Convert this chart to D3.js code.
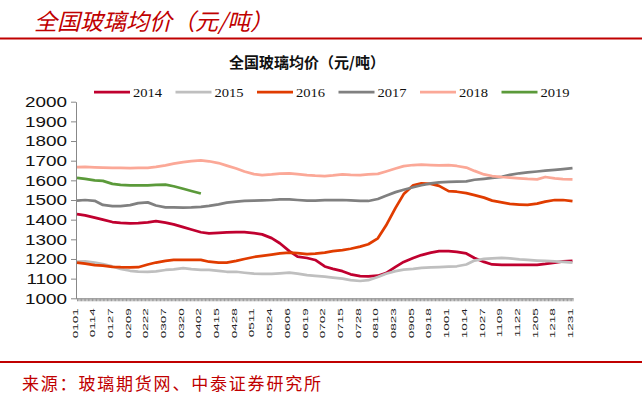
<!DOCTYPE html>
<html>
<head>
<meta charset="utf-8">
<script src="https://cdn.jsdelivr.net/npm/d3@7"></script>
<style>
  body { margin: 0; background: #fff; }
  svg { display: block; }
</style>
</head>
<body>
<div id="vis"></div>
<script>
// sample dates (MMDD) the values were read at
const sampleDates = [
  '0101', '0107', '0114', '0120', '0127', '0202', '0209', '0215', '0222', '0228',
  '0307', '0313', '0320', '0326', '0402', '0408', '0415', '0421', '0428', '0504',
  '0511', '0517', '0524', '0530', '0606', '0612', '0619', '0625', '0702', '0708',
  '0715', '0721', '0728', '0803', '0810', '0816', '0823', '0829', '0905', '0911',
  '0918', '0924', '1001', '1007', '1014', '1020', '1027', '1102', '1109', '1115',
  '1122', '1128', '1205', '1211', '1218', '1224', '1231'
];
const tickLabels = [
  '0101', '0114', '0127', '0209', '0222', '0307', '0320', '0402', '0415', '0428',
  '0511', '0524', '0606', '0619', '0702', '0715', '0728', '0810', '0823', '0905',
  '0918', '1001', '1014', '1027', '1109', '1122', '1205', '1218', '1231'
];
const yTicks = [1000, 1100, 1200, 1300, 1400, 1500, 1600, 1700, 1800, 1900, 2000];

const years = ['2014', '2015', '2016', '2017', '2018', '2019'];
const colors = ['#c0002f', '#bfbfbf', '#e03c00', '#808080', '#fba897', '#5b9a3a'];

const s2014 = [
  1428, 1422, 1410, 1400, 1388, 1384, 1381, 1382, 1386, 1392,
  1385, 1376, 1362, 1350, 1336, 1330, 1333, 1335, 1336, 1336,
  1332, 1325, 1306, 1280, 1240, 1212, 1205, 1195, 1162, 1150,
  1138, 1122, 1113, 1112, 1115, 1128, 1160, 1185, 1205, 1220,
  1232, 1240, 1240, 1236, 1228, 1205, 1185, 1172, 1170, 1170,
  1170, 1170, 1170, 1175, 1182, 1188, 1190
];
const s2015 = [
  1187, 1188, 1182, 1174, 1162, 1150, 1140, 1136, 1135, 1137,
  1144, 1147, 1153, 1148, 1145, 1144, 1140, 1135, 1135, 1130,
  1125, 1124, 1124, 1127, 1130, 1126, 1118, 1114, 1110, 1105,
  1100, 1092, 1088, 1092, 1108, 1125, 1138, 1146, 1150, 1155,
  1157, 1159, 1161, 1163, 1172, 1192, 1200, 1203, 1205, 1203,
  1198, 1195, 1192, 1190, 1188, 1185, 1182
];
const s2016 = [
  1182, 1176, 1169, 1166, 1160, 1158, 1157, 1158, 1172, 1182,
  1190, 1195, 1195, 1195, 1195, 1186, 1182, 1182, 1190, 1200,
  1210, 1216, 1222, 1228, 1232, 1230, 1225, 1227, 1232, 1240,
  1245, 1252, 1263, 1275, 1305, 1370, 1460, 1530, 1575, 1585,
  1582, 1572, 1545, 1542, 1535, 1525, 1512, 1497, 1488, 1480,
  1477, 1475, 1482, 1492, 1500, 1500, 1494
];
const s2017 = [
  1497, 1500, 1496, 1475, 1469, 1469, 1474, 1484, 1488, 1472,
  1463, 1462, 1461, 1462, 1465, 1470, 1478, 1487, 1492, 1495,
  1497, 1498, 1500, 1503, 1503, 1500, 1497, 1497, 1499, 1500,
  1500, 1498, 1495, 1495, 1505, 1522, 1540, 1552, 1565, 1575,
  1585, 1590, 1592, 1593, 1595, 1603, 1608, 1612, 1618, 1628,
  1636, 1640, 1645, 1649, 1653, 1657, 1662
];
const s2018 = [
  1667, 1668, 1666, 1665, 1664, 1663, 1662, 1663, 1664, 1668,
  1676, 1685, 1693, 1698, 1702, 1697, 1688, 1675, 1660, 1645,
  1632, 1627, 1630, 1634, 1636, 1632, 1627, 1624, 1622, 1625,
  1630, 1628, 1627, 1630, 1633, 1645, 1660, 1672, 1678, 1680,
  1678, 1676, 1677, 1673, 1665, 1648, 1630, 1622, 1617, 1614,
  1610, 1607, 1605, 1617, 1610, 1606, 1605
];
const s2019 = [
  1612, 1607, 1600, 1597, 1582, 1577, 1575, 1574, 1575, 1577,
  1578, 1570, 1557, 1546, 1533
];
const series = [s2014, s2015, s2016, s2017, s2018, s2019];

const width = 642;
const height = 395;
const red = '#c00000';

const svg = d3.select('#vis')
  .append('svg')
  .attr('width', width)
  .attr('height', height);

// header + footer
svg.append('text')
  .attr('x', 34)
  .attr('y', 30)
  .attr('fill', red)
  .attr('font-family', '"Noto Sans CJK SC", sans-serif')
  .attr('font-size', 23)
  .attr('font-style', 'italic')
  .text('全国玻璃均价（元/吨）');

svg.append('line')
  .attr('x1', 0).attr('x2', width)
  .attr('y1', 38.5).attr('y2', 38.5)
  .attr('stroke', red)
  .attr('stroke-width', 2);

svg.append('line')
  .attr('x1', 0).attr('x2', width)
  .attr('y1', 362).attr('y2', 362)
  .attr('stroke', red)
  .attr('stroke-width', 2);

svg.append('text')
  .attr('x', 22)
  .attr('y', 390)
  .attr('fill', red)
  .attr('font-family', '"Noto Sans CJK SC", sans-serif')
  .attr('font-size', 17)
  .attr('letter-spacing', 1.8)
  .text('来源：玻璃期货网、中泰证券研究所');

svg.append('text')
  .attr('x', 307)
  .attr('y', 68)
  .attr('text-anchor', 'middle')
  .attr('fill', '#111')
  .attr('font-family', '"Noto Sans CJK SC", sans-serif')
  .attr('font-size', 15)
  .attr('font-weight', 'bold')
  .text('全国玻璃均价（元/吨）');

// scales
const days = d3.timeDay.range(new Date(2015, 0, 1), new Date(2016, 0, 1))
  .map(d3.timeFormat('%m%d'));

const x = d3.scalePoint()
  .domain(days)
  .range([77, 572.5]);
const y = d3.scaleLinear()
  .domain([1000, 2000])
  .range([298.3, 101.7]);

// axes
const xAxis = svg.append('g')
  .attr('transform', 'translate(0,298.3)')
  .call(d3.axisBottom(x)
    .tickValues(days)
    .tickSize(3)
    .tickSizeOuter(0)
    .tickFormat(d => tickLabels.includes(d) ? d : ''));
xAxis.select('.domain').attr('stroke', '#888').attr('d', 'M76,0.5H573.5');
xAxis.selectAll('.tick line').attr('stroke', '#999');
xAxis.selectAll('.tick text')
  .attr('font-family', '"Liberation Sans", Arial, sans-serif')
  .attr('font-size', 8)
  .attr('fill', '#222')
  .attr('text-anchor', 'end')
  .attr('transform', 'rotate(-90) scale(1.69,1)')
  .attr('x', -10 / 1.69)
  .attr('y', 0)
  .attr('dy', 0);

const yAxis = svg.append('g')
  .attr('transform', 'translate(76,0)')
  .call(d3.axisLeft(y)
    .tickValues(yTicks)
    .tickFormat(d3.format('d'))
    .tickSize(5)
    .tickSizeOuter(0));
yAxis.select('.domain').attr('stroke', '#888');
yAxis.selectAll('.tick line').attr('stroke', '#888');
yAxis.selectAll('.tick text')
  .attr('font-family', '"Liberation Sans", Arial, sans-serif')
  .attr('font-size', 15)
  .attr('fill', '#111')
  .attr('transform', 'scale(1.26,1)')
  .attr('x', -9 / 1.26);

// lines
const line = d3.line()
  .x((d, i) => x(sampleDates[i]))
  .y(d => y(d));

series.forEach((s, k) => {
  svg.append('path')
    .datum(s)
    .attr('fill', 'none')
    .attr('stroke', colors[k])
    .attr('stroke-width', 2.75)
    .attr('stroke-linejoin', 'round')
    .attr('d', line);
});

// legend
const legend = svg.append('g')
  .attr('transform', 'translate(94,92)');
years.forEach((yr, k) => {
  const g = legend.append('g')
    .attr('transform', 'translate(' + (k * 81.5) + ',0)');
  g.append('line')
    .attr('x1', 0).attr('x2', 36)
    .attr('stroke', colors[k])
    .attr('stroke-width', 2.75);
  g.append('text')
    .attr('transform', 'translate(39,0) scale(1.12,1)')
    .attr('dy', '0.35em')
    .attr('font-family', '"Liberation Serif", "Times New Roman", serif')
    .attr('font-size', 13)
    .attr('fill', '#111')
    .text(yr);
});
</script>
</body>
</html>
